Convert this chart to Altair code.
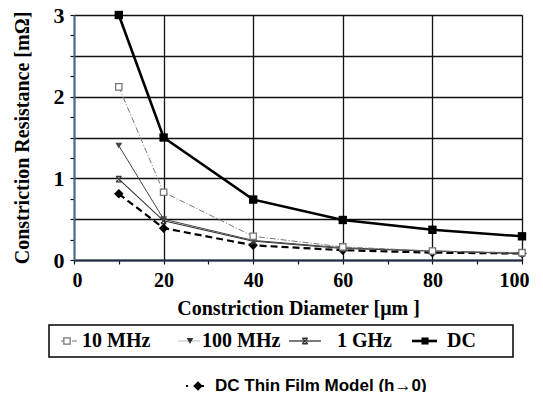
import altair as alt
import pandas as pd

# ---- data ----
diameters = [10, 20, 40, 60, 80, 100]
r_10mhz = [2.12, 0.83, 0.29, 0.16, 0.11, 0.09]
r_100mhz = [1.40, 0.50, 0.24, 0.15, 0.11, 0.08]
r_1ghz = [0.99, 0.48, 0.23, 0.14, 0.11, 0.08]
r_dc = [3.00, 1.50, 0.74, 0.49, 0.37, 0.29]
r_thin = [0.81, 0.39, 0.18, 0.12, 0.09, 0.08]

legend_labels = ["10 MHz", "100 MHz", "1 GHz", "DC"]
legend2_label = "DC Thin Film Model (h\u21920)"
x_title = "Constriction Diameter [\u03bcm ]"
y_title = "Constriction Resistance [m\u03a9]"

x_ticks = [0, 10, 20, 30, 40, 50, 60, 70, 80, 90, 100]
y_ticks = [0, 0.25, 0.5, 0.75, 1, 1.25, 1.5, 1.75, 2, 2.25, 2.5, 2.75, 3]

SERIF = "Liberation Serif"
SANS = "Liberation Sans, DejaVu Sans"
W, H = 448, 245
TOP = 7

x_enc = alt.X(
    "d:Q",
    scale=alt.Scale(domain=[0, 100], nice=False, zero=False),
    axis=alt.Axis(
        values=x_ticks,
        format="d",
        labelExpr="datum.value % 20 == 0 ? datum.label : ''",
        labelOffset={"condition": [
            {"test": "datum.value == 100", "value": -8},
            {"test": "datum.value == 0", "value": 3}], "value": 0},
        grid=True,
        gridColor="#111111",
        gridWidth=1.3,
        gridOpacity={"condition": {"test": "datum.value % 20 == 0", "value": 1}, "value": 0},
        tickSize=4,
        tickColor="#111111",
        tickWidth=1.2,
        domainColor="#1e2d44",
        domainWidth=2,
        labelFont=SERIF,
        labelFontWeight="bold",
        labelFontSize=20,
        labelColor="black",
        labelPadding=6,
        labelFlush=False,
        title=x_title,
        titleFont=SERIF,
        titleFontWeight="bold",
        titleFontSize=20,
        titleColor="black",
        titlePadding=8,
    ),
)
y_enc = alt.Y(
    "r:Q",
    scale=alt.Scale(domain=[0, 3], nice=False, zero=False),
    axis=alt.Axis(
        values=y_ticks,
        format=".0f",
        labelExpr="datum.value % 1 == 0 ? datum.label : ''",
        grid=True,
        gridColor="#111111",
        gridWidth=1.3,
        gridOpacity={"condition": {"test": "datum.value % 0.5 == 0", "value": 1}, "value": 0},
        tickSize=4,
        tickColor="#111111",
        tickWidth=1.2,
        domainColor="#4a6a90",
        domainWidth=2,
        labelFont=SERIF,
        labelFontWeight="bold",
        labelFontSize=22,
        labelColor="black",
        labelPadding=6,
        labelFlush=False,
        title=y_title,
        titleFont=SERIF,
        titleFontWeight="bold",
        titleFontSize=20,
        titleColor="black",
        titlePadding=21,
    ),
)

GHZ_SHAPE = "M-1,-1H1M-1,1H1M-1,-1L1,1M1,-1L-1,1"


def series(vals, color, width, dash, shape, filled, size, fill=None):
    df = pd.DataFrame({"d": diameters, "r": vals})
    base = alt.Chart(df).encode(x=x_enc, y=y_enc)
    line_kw = dict(color=color, strokeWidth=width)
    if dash:
        line_kw["strokeDash"] = dash
    line = base.mark_line(**line_kw)
    pt_kw = dict(shape=shape, filled=filled, size=size, color=color, strokeWidth=1.3, opacity=1)
    if fill is not None:
        pt_kw["fill"] = fill
    pts = base.mark_point(**pt_kw)
    return [line, pts]


layers = []
layers += series(r_thin, "black", 2.2, [7, 4], "diamond", True, 90)
layers += series(r_1ghz, "#333333", 1.1, None, GHZ_SHAPE, False, 30)
layers += series(r_100mhz, "#444444", 1.0, None, "triangle-down", True, 45)
layers += series(r_10mhz, "#777777", 1.0, [6, 2, 1, 2], "square", False, 40, fill="white")
layers += series(r_dc, "black", 2.6, None, "square", True, 70)

# ---- manual legend (positions relative to the plot's top-left corner) ----
dummy = pd.DataFrame({"a": [0]})


def txt(s, x, y, font=SERIF, size=20):
    return alt.Chart(dummy).mark_text(
        text=s, align="left", baseline="middle", font=font, fontSize=size,
        fontWeight="bold", color="black"
    ).encode(x=alt.value(x), y=alt.value(y))


def seg(x1, x2, y, color, width, dash=None):
    kw = dict(color=color, strokeWidth=width)
    if dash:
        kw["strokeDash"] = dash
    return alt.Chart(dummy).mark_rule(**kw).encode(
        x=alt.value(x1), x2=alt.value(x2), y=alt.value(y)
    )


def sym(x, y, shape, color, filled, size, fill=None):
    kw = dict(shape=shape, filled=filled, size=size, color=color, strokeWidth=1.3, opacity=1)
    if fill is not None:
        kw["fill"] = fill
    return alt.Chart(dummy).mark_point(**kw).encode(x=alt.value(x), y=alt.value(y))


OY = 8 + TOP  # page y of plot top
LY = 341 - OY
L2Y = 386 - OY
box = alt.Chart(dummy).mark_rect(fill="white", stroke="black", strokeWidth=1.5).encode(
    x=alt.value(-25), x2=alt.value(439), y=alt.value(325 - OY), y2=alt.value(357 - OY)
)
legend = [
    box,
    seg(-13, 3, LY, "#777777", 1.0, [6, 2, 1, 2]),
    sym(-7, LY, "square", "#777777", False, 40, fill="white"),
    txt(legend_labels[0], 8, LY),
    seg(104, 126, LY, "#bbbbbb", 1.0),
    sym(116, LY, "triangle-down", "#333333", True, 45),
    txt(legend_labels[1], 128, LY),
    seg(215, 247, LY, "#333333", 1.3),
    sym(231, LY, GHZ_SHAPE, "#333333", False, 30),
    txt(legend_labels[2], 263, LY),
    seg(338, 363, LY, "black", 2.6),
    sym(351, LY, "square", "black", True, 50),
    txt(legend_labels[3], 373, LY),
    seg(112, 134, L2Y, "black", 2.0, [2, 6]),
    sym(124, L2Y, "diamond", "black", True, 90),
    txt(legend2_label, 141, L2Y, font=SANS, size=17),
]

chart = alt.layer(*layers, *legend).properties(
    width=W,
    height=H,
    autosize=alt.AutoSizeParams(type="none"),
    padding={"left": 66, "top": TOP, "right": 13, "bottom": 384 - TOP - H},
).configure_view(
    stroke="#3b5270", strokeWidth=2
).configure(background="white")

chart.save("out.html", embed_options={"renderer": "svg", "actions": False})
